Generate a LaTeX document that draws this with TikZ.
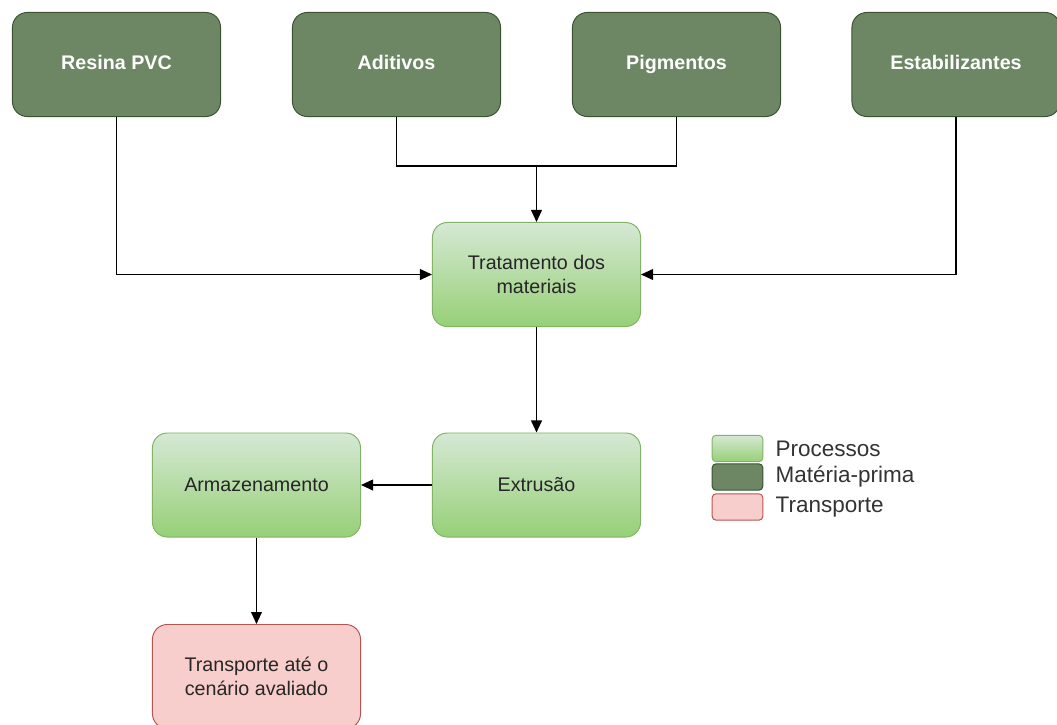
\documentclass[tikz,border=0pt]{standalone}
\usepackage{fontspec}
\setmainfont{Liberation Sans}
\usetikzlibrary{arrows.meta,positioning}
\definecolor{mpfill}{HTML}{6D8764}
\definecolor{mpline}{HTML}{3A5431}
\definecolor{prtop}{HTML}{D5E8D4}
\definecolor{prbot}{HTML}{97D077}
\definecolor{prline}{HTML}{82B366}
\definecolor{trfill}{HTML}{F8CECC}
\definecolor{trline}{HTML}{B85450}

\tikzset{
  box/.style={rounded corners=0.37cm, minimum width=5.2cm, minimum height=2.6cm,
    align=center, text=black!85, font=\fontsize{14}{17.5}\selectfont, line width=0.7pt},
  materia/.style={box, draw=mpline, fill=mpfill, text=white, text height=0.72em, text depth=0pt,
    font=\bfseries\fontsize{14}{17.5}\selectfont},
  processo/.style={box, draw=prline, top color=prtop, bottom color=prbot},
  transp/.style={box, draw=trline, fill=trfill},
  swatch/.style={rounded corners=0.1cm, minimum width=1.27cm, minimum height=0.66cm, line width=0.7pt},
  legtxt/.style={inner sep=0pt, text=black!80, font=\fontsize{16}{19}\selectfont},
  fluxo/.style={-{Triangle[length=0.3cm,width=0.27cm]}, line width=1pt},
}

\begin{document}
\begin{tikzpicture}[x=0.025cm,y=-0.025cm]
  \useasboundingbox (0,0) rectangle (1057,724);
  % materia-prima
  \foreach \nome/\txt/\x in {resina/Resina PVC/116.5, aditivos/Aditivos/396.5,
      pigmentos/Pigmentos/676.5, estab/Estabilizantes/956}{
      \node[materia] (\nome) at (\x,64.5) {\txt};
  }
  % processos
  \node[processo] (trat) at (536.5,274.5) {Tratamento dos\\materiais};
  \node[processo] (extr) at (536.5,485) {Extrusão};
  \node[processo] (armaz) at (256.5,485) {Armazenamento};
  \node[transp] (transporte) at (256.5,676.5) {Transporte até o\\cenário avaliado};
  % conexoes
  \coordinate (junta) at (536.5,166);
  \draw[fluxo] (resina.south) |- (trat.west);
  \draw[fluxo] (estab.south) |- (trat.east);
  \draw[line width=1pt] (aditivos.south) |- (junta) -| (pigmentos.south);
  \draw[fluxo] (junta) -- (trat.north);
  \draw[fluxo] (trat) -- (extr);
  \draw[fluxo] (extr) -- (armaz);
  \draw[fluxo] (armaz) -- (transporte);
  % legenda
  \node[swatch, draw=prline, top color=prtop, bottom color=prbot] (legproc) at (737.5,448.5) {};
  \node[swatch, draw=mpline, fill=mpfill] (legmat) at (737.5,477) {};
  \node[swatch, draw=trline, fill=trfill] (legtransp) at (737.5,507) {};
  \node[legtxt, right=0.3cm of legproc] {Processos};
  \node[legtxt, right=0.3cm of legmat] {Matéria-prima};
  \node[legtxt, right=0.3cm of legtransp] {Transporte};
\end{tikzpicture}
\end{document}
